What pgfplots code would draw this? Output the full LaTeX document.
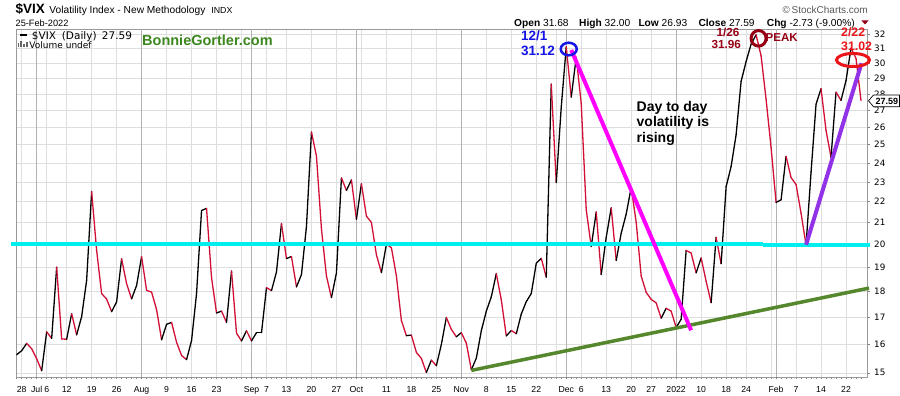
\documentclass[border=0pt]{standalone}
\usepackage{fontspec}
\setmainfont{Liberation Sans}
\newfontfamily\dv{DejaVu Sans}
\usepackage{pgfplots}
\usepackage{pgfplotstable}
\pgfplotsset{compat=1.18}
\definecolor{vixred}{RGB}{210,16,55}
\definecolor{cyanl}{RGB}{0,238,238}
\definecolor{magl}{RGB}{255,0,255}
\definecolor{purl}{RGB}{145,50,230}
\definecolor{grnl}{RGB}{85,135,45}
\definecolor{bonnie}{RGB}{60,135,30}
\definecolor{annblue}{RGB}{20,20,230}
\definecolor{anndred}{RGB}{150,0,20}
\definecolor{annred}{RGB}{235,20,25}
\newcommand\fs[1]{\fontsize{#1bp}{#1bp}\selectfont}

\pgfplotstableread{
i v up
-1 15.62 1
0 15.76 1
1 16.02 0
2 15.83 0
3 15.48 0
4 15.07 1
5 16.44 0
6 16.20 1
7 19.00 0
8 16.18 0
9 16.17 1
10 17.12 0
11 16.33 1
12 17.01 1
13 18.45 1
14 22.50 0
15 19.73 0
16 17.91 0
17 17.69 0
18 17.20 1
19 17.58 1
20 19.36 0
21 18.31 0
22 17.70 1
23 18.24 1
24 19.46 0
25 18.04 0
26 17.97 0
27 17.28 0
28 16.15 1
29 16.72 1
30 16.79 0
31 16.06 0
32 15.59 0
33 15.45 1
34 16.12 1
35 17.91 1
36 21.57 1
37 21.67 0
38 18.56 0
39 17.15 1
40 17.22 0
41 16.79 1
42 18.84 0
43 16.39 0
44 16.11 1
45 16.48 0
46 16.11 1
47 16.41 1
48 16.41 1
49 18.15 0
50 18.03 1
51 18.80 1
52 20.95 0
53 19.37 1
54 19.46 0
55 18.18 1
56 18.69 1
57 20.81 1
58 25.71 0
59 24.36 0
60 20.70 0
61 18.63 0
62 17.75 1
63 18.76 1
64 23.20 0
65 22.56 1
66 23.10 0
67 21.15 1
68 22.90 0
69 21.30 0
70 21.00 0
71 19.54 0
72 18.77 1
73 20.00 0
74 19.85 0
75 18.64 0
76 16.86 0
77 16.30 1
78 16.32 0
79 15.70 0
80 15.49 0
81 15.01 1
82 15.43 0
83 15.24 1
84 15.98 1
85 16.98 0
86 16.53 0
87 16.26 1
88 16.41 0
89 16.03 0
90 15.10 1
91 15.50 1
92 16.48 1
93 17.22 1
94 17.78 1
95 18.73 0
96 17.66 0
97 16.29 1
98 16.49 0
99 16.37 1
100 17.11 1
101 17.59 1
102 17.91 1
103 19.17 1
104 19.38 0
105 18.58 1
106 28.62 0
107 22.96 1
108 27.19 1
109 31.12 0
110 27.80 1
111 30.40 0
112 27.40 0
113 21.60 0
114 19.90 1
115 21.50 0
116 18.69 1
117 20.31 1
118 21.70 0
119 19.29 1
120 20.50 1
121 21.40 1
122 22.70 0
123 21.01 0
124 18.63 0
125 17.96 0
126 17.68 0
127 17.54 0
128 16.95 1
129 17.33 0
130 17.22 0
131 16.60 1
132 16.91 1
133 19.73 0
134 19.61 0
135 18.76 1
136 19.40 0
137 18.41 0
138 17.55 1
139 20.31 0
140 19.15 1
141 22.75 1
142 23.80 1
143 25.55 1
144 28.80 1
145 30.10 1
146 31.30 1
147 31.96 0
148 30.49 0
149 27.66 0
150 24.83 0
151 21.96 1
152 22.09 1
153 24.35 0
154 23.22 0
155 22.86 0
156 21.44 0
157 19.96 1
158 23.50 1
159 27.36 1
160 28.33 0
161 25.80 0
162 24.30 1
163 28.11 0
164 27.60 1
165 28.85 1
166 31.02 0
167 30.32 0
168 27.59 0
}\vixdata

\begin{document}
\begin{tikzpicture}
\fill[white] (0,0) rectangle (900bp,396bp);
\path[use as bounding box] (0,0) rectangle (900bp,396bp);
\begin{axis}[
  at={(16bp,19bp)}, anchor=south west,
  scale only axis, width=851bp, height=348bp,
  clip=false,
  xmin=-1.14, xmax=169.2,
  ymode=log, ymin=14.86, ymax=32.38,
  axis line style={black!40, line width=0.6bp},
  xmajorgrids, ymajorgrids,
  major grid style={black!13, line width=0.5bp},
  tick align=outside,
  xtick pos=bottom, ytick pos=right, yticklabel pos=right,
  major tick length=2.5bp, minor tick length=1.8bp,
  tick style={black!50, line width=0.5bp},
  xtick={0,5,9,14,19,29,34,39,44,49,53,58,63,68,73,78,83,93,98,103,107,112,117,122,126,136,141,145,150,155,160,165},
  xticklabels={28,6,12,19,26,9,16,23,{},7,13,20,27,{},11,18,25,8,15,22,{},6,13,20,27,10,18,24,{},7,14,22},
  minor xtick={-1,0,...,168},
  extra x ticks={3,24,46,67,88,109,131,151},
  extra x tick labels={Jul,Aug,Sep,Oct,Nov,Dec,2022,Feb},
  extra x tick style={grid=major, major grid style={black!30, line width=0.6bp},
     tick label style={font=\dv\bfseries\fs{9}}},
  xticklabel style={font=\fs{8.7}, anchor=base, yshift=-13bp, inner sep=0pt},
  ytick={15,16,17,18,19,20,21,22,23,24,25,26,27,28,29,30,31,32},
  yticklabels={15,16,17,18,19,20,21,22,23,24,25,26,27,28,29,30,31,32},
  yticklabel style={font=\dv\fs{8.8}, anchor=west, inner sep=0pt, xshift=4.5bp},
  /pgf/number format/assume math mode=true,
  colormap={updown}{rgb255=(210,16,55) rgb255=(0,0,0)},
  point meta min=0, point meta max=1,
]
\addplot[mesh, shader=flat corner, point meta=explicit, line width=1.3bp, line join=round, line cap=round]
  table[x=i, y=v, meta=up] {\vixdata};
% horizontal support line at 20
\addplot[cyanl, line width=4bp] coordinates {(-2.1,20.03) (62.4,20.03)};
\addplot[cyanl, line width=4bp] coordinates {(62.4,20.0) (148.4,20.0)};
\addplot[cyanl, line width=4bp] coordinates {(148.4,19.96) (169.8,19.96)};
% trend lines
\addplot[grnl, line width=3.5bp] coordinates {(90,15.08) (169.6,18.13)};
\addplot[magl, line width=4bp] coordinates {(110,30.89) (134,16.50)};
\addplot[purl, line width=4bp] coordinates {(157,19.98) (168.1,29.99)};
% circles
\draw[annblue, line width=2.5bp] (axis cs:109.5,30.96) ellipse [x radius=8bp, y radius=6.3bp];
\draw[anndred, line width=3bp] (axis cs:147.5,31.71) ellipse [x radius=7.5bp, y radius=7.8bp];
\draw[annred, line width=3bp] (axis cs:166.4,30.21) ellipse [x radius=16.5bp, y radius=6.5bp];
\end{axis}

\begin{scope}[x=1bp,y=1bp]
% title
\node[anchor=base west, inner sep=0pt] at (15.5,382.7)
  {{\fs{13.5}\bfseries \$VIX}\hspace{4.5bp}{\fs{10.2}Volatility Index - New Methodology}\hspace{6bp}{\fs{8.8}INDX}};
\node[anchor=base west, inner sep=0pt] at (15.5,370) {\fs{9.2}25-Feb-2022};
\node[anchor=base east, inner sep=0pt, text=black!65] at (868,382.7) {\fs{10}\textcopyright\,StockCharts.com};
% OHLC
\node[anchor=base west, inner sep=0pt] at (514,370) {\fs{10.2}\textbf{Open} 31.68};
\node[anchor=base west, inner sep=0pt] at (579,370) {\fs{10.2}\textbf{High} 32.00};
\node[anchor=base west, inner sep=0pt] at (638.3,370) {\fs{10.2}\textbf{Low} 26.93};
\node[anchor=base west, inner sep=0pt] at (698.3,370) {\fs{10.2}\textbf{Close} 27.59};
\node[anchor=base west, inner sep=0pt] at (766.7,370) {\fs{10.2}\textbf{Chg} -2.73 (-9.00\%)};
\fill[anndred] (861.5,375.5) -- (868.5,375.5) -- (865,371.5) -- cycle;
% legend
\draw[black, line width=1.6bp] (19.5,361) -- (26.5,361);
\node[anchor=base west, inner sep=0pt] at (31.7,357) {\dv\fs{10.5}\$VIX};
\node[anchor=base west, inner sep=0pt] at (61.7,357) {\dv\fs{10.5}(Daily)};
\node[anchor=base west, inner sep=0pt] at (101.7,357) {\dv\fs{10.5}27.59};
\fill[black!60] (17.5,348.5) rectangle (19.3,352.5);
\fill[black!60] (20.3,348.5) rectangle (22.1,354.5);
\fill[black!60] (23.1,348.5) rectangle (24.9,351.5);
\fill[black!60] (25.9,348.5) rectangle (27.7,353.5);
\node[anchor=base west, inner sep=0pt] at (29.3,348) {\dv\fs{9}Volume undef};
\node[anchor=base west, inner sep=0pt, text=bonnie] at (142,350.3) {\fs{14.5}\bfseries BonnieGortler.com};
% annotations
\node[anchor=base west, inner sep=0pt] at (636.5,284.3) {\fs{14}\bfseries Day to day};
\node[anchor=base west, inner sep=0pt] at (636.5,269.1) {\fs{14}\bfseries volatility is};
\node[anchor=base west, inner sep=0pt] at (636.5,253.4) {\fs{14}\bfseries rising};
\node[anchor=base west, inner sep=0pt, text=annblue] at (521,356) {\fs{13.5}\bfseries 12/1};
\node[anchor=base west, inner sep=0pt, text=annblue] at (521,340.3) {\fs{13.5}\bfseries 31.12};
\node[anchor=base east, inner sep=0pt, text=anndred] at (739.5,359.2) {\fs{11.7}\bfseries 1/26};
\node[anchor=base east, inner sep=0pt, text=anndred] at (741,347.8) {\fs{11.7}\bfseries 31.96};
\node[anchor=base west, inner sep=0pt, text=anndred] at (765.5,354.3) {\fs{11.5}\bfseries PEAK};
\node[anchor=base west, inner sep=0pt, text=annred] at (841,359.3) {\fs{12.3}\bfseries 2/22};
\node[anchor=base west, inner sep=0pt, text=annred] at (841,345.3) {\fs{12.3}\bfseries 31.02};
% last value box
\filldraw[fill=white, draw=black, line width=0.7bp] (868.5,295.2) -- (873.5,301) -- (899.5,301) -- (899.5,289.3) -- (873.5,289.3) -- cycle;
\node[anchor=base east, inner sep=0pt] at (898.3,291.4) {\fs{9}\bfseries 27.59};
\end{scope}
\end{tikzpicture}
\end{document}
